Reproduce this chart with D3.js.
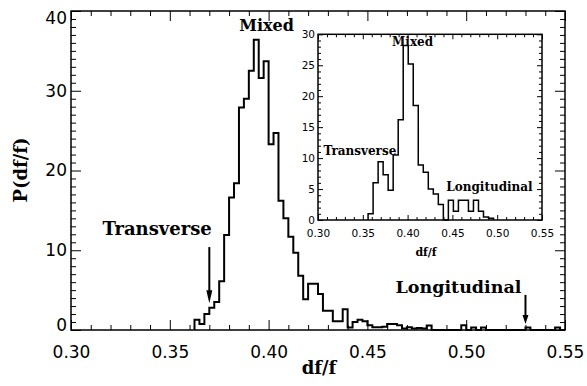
<!DOCTYPE html>
<html>
<head>
<meta charset="utf-8">
<script src="https://cdn.jsdelivr.net/npm/d3@7"></script>
<style>
body { margin: 0; background: #fff; }
svg { display: block; }
.tick text { font-family: "DejaVu Sans", sans-serif; fill: #000; }
.tick line { stroke: #000; }
</style>
</head>
<body>
<div id="chart-area"></div>
<script>
// main histogram, bins of 0.0025 starting at 0.3625
var mainStart = 0.3625, mainWidth = 0.0025;
var mainValues = [1.3, 0.75, 2.0, 2.8, 3.5, 6.1, 11.9, 16.6, 18.4, 27.9,
	29.0, 32.5, 36.4, 31.6, 33.7, 23.3, 24.7, 16.2, 14.0, 11.7,
	9.7, 6.8, 3.85, 5.8, 5.8, 4.5, 2.4, 2.4, 1.1, 1.1,
	2.6, 0.3, 1.0, 1.3, 1.1, 0.6, 0.35, 0.35, 0.4, 0.75,
	0.75, 0.6, 0.2, 0.35, 0.2, 0.25, 0.2, 0.55, 0, 0,
	0, 0, 0, 0, 0.6, 0, 0.3, 0, 0.3, 0,
	0, 0, 0, 0, 0, 0, 0, 0.3, 0, 0,
	0, 0, 0, 0.3, 0];

// inset histogram
var insetStart = 0.3559, insetWidth = 0.0056;
var insetValues = [1.0, 6.0, 9.4, 7.3, 4.8, 10.5, 16.2, 28.2, 25.2, 18.5,
	8.9, 7.7, 5.0, 4.2, 2.5, 0, 3.2, 1.4, 3.2, 3.2,
	1.4, 3.2, 1.4, 0.5, 0.3];

var xTicks = [0.30, 0.35, 0.40, 0.45, 0.50, 0.55];
var yTicks = [0, 10, 20, 30, 40];
var insetYTicks = [0, 5, 10, 15, 20, 25, 30];

// arrows: x position, top and tip in P(df/f)
var arrowX = [0.37, 0.53];
var arrowTop = [10.4, 4.4];
var arrowTip = [3.35, 0.75];

var margin = {top: 11, left: 71, bottom: 56, right: 22};
var width = 587 - margin.left - margin.right;
var height = 386 - margin.top - margin.bottom;

var svg = d3.select("#chart-area")
	.append("svg")
		.attr("width", 587)
		.attr("height", 386);

svg.append("rect").attr("width", 587).attr("height", 386).attr("fill", "#fff");

var g = svg.append("g")
	.attr("transform", "translate(" + margin.left + ", " + margin.top + ")");

var x = d3.scaleLinear().domain([0.30, 0.55]).range([0, width]);
var y = d3.scaleLinear().domain([0, 40]).range([height, 0]);

function minorTicks(lo, hi, step, every) {
	var out = [];
	for (var i = Math.round(lo / step); i <= Math.round(hi / step); i++) {
		if (i % every !== 0) out.push(+(i * step).toFixed(4));
	}
	return out;
}

function stepPath(values, start, w, xs, ys) {
	var p = d3.path();
	p.moveTo(xs(start), ys(0));
	values.forEach(function(v, i) {
		p.lineTo(xs(start + i * w), ys(v));
		p.lineTo(xs(start + (i + 1) * w), ys(v));
	});
	p.lineTo(xs(start + values.length * w), ys(0));
	return p.toString();
}

function drawFrame(grp, xs, ys, xt, yt, xMinor, yMinor, major, minor, fontSize, pad) {
	var w = xs.range()[1], h = ys.range()[0];
	// minor ticks
	grp.append("g").attr("transform", "translate(0," + h + ")")
		.call(d3.axisBottom(xs).tickValues(xMinor).tickSize(-minor).tickFormat(""));
	grp.append("g")
		.call(d3.axisTop(xs).tickValues(xMinor).tickSize(-minor).tickFormat(""));
	grp.append("g")
		.call(d3.axisLeft(ys).tickValues(yMinor).tickSize(-minor).tickFormat(""));
	grp.append("g").attr("transform", "translate(" + w + ",0)")
		.call(d3.axisRight(ys).tickValues(yMinor).tickSize(-minor).tickFormat(""));
	// major ticks
	var bx = grp.append("g").attr("class", "x axis").attr("transform", "translate(0," + h + ")")
		.call(d3.axisBottom(xs).tickValues(xt).tickSizeInner(-major).tickSizeOuter(0)
			.tickPadding(pad).tickFormat(d3.format(".2f")));
	grp.append("g")
		.call(d3.axisTop(xs).tickValues(xt).tickSize(-major).tickFormat(""));
	var ly = grp.append("g").attr("class", "y axis")
		.call(d3.axisLeft(ys).tickValues(yt).tickSizeInner(-major).tickSizeOuter(0)
			.tickPadding(pad));
	grp.append("g").attr("transform", "translate(" + w + ",0)")
		.call(d3.axisRight(ys).tickValues(yt).tickSize(-major).tickFormat(""));
	grp.selectAll(".domain").remove();
	grp.selectAll(".tick text").attr("font-size", fontSize + "px");
	grp.append("rect")
		.attr("width", w).attr("height", h)
		.attr("fill", "none").attr("stroke", "#000").attr("stroke-width", 1.5);
	return {bx: bx, ly: ly};
}

// main histogram
g.append("path")
	.attr("d", stepPath(mainValues, mainStart, mainWidth, x, y))
	.attr("fill", "none").attr("stroke", "#000").attr("stroke-width", 2)
	.attr("stroke-linejoin", "miter");

var ax = drawFrame(g, x, y, xTicks, yTicks,
	minorTicks(0.30, 0.55, 0.01, 5), minorTicks(0, 40, 1, 10), 10, 5, 17, 4);
ax.ly.selectAll(".tick text").filter(function(d) { return d === 40; }).attr("dy", "0.72em");
ax.ly.selectAll(".tick text").filter(function(d) { return d === 0; }).attr("dy", "0.02em");
ax.bx.selectAll(".tick text").attr("dy", "1.41em");

// labels
g.append("text")
	.attr("x", width / 2 + 1)
	.attr("y", height + 44)
	.attr("text-anchor", "middle")
	.attr("font-family", "DejaVu Serif, serif").attr("font-weight", "bold")
	.attr("font-size", "18px")
	.text("df/f");

g.append("text")
	.attr("transform", "translate(" + (-44) + "," + (159) + ") rotate(-90)")
	.attr("text-anchor", "middle")
	.attr("font-family", "DejaVu Serif, serif").attr("font-weight", "bold")
	.attr("font-size", "18px")
	.text("P(df/f)");

g.append("text")
	.attr("x", x(0.40) - 2).attr("y", y(37.5))
	.attr("text-anchor", "middle")
	.attr("font-family", "DejaVu Serif, serif").attr("font-weight", "bold")
	.attr("font-size", "16px")
	.text("Mixed");

g.append("text")
	.attr("x", x(arrowX[0]) + 2.5).attr("y", y(11.9))
	.attr("text-anchor", "end")
	.attr("font-family", "DejaVu Serif, serif").attr("font-weight", "bold")
	.attr("font-size", "18px")
	.text("Transverse");

g.append("text")
	.attr("x", x(arrowX[1]) - 4).attr("y", y(4.65))
	.attr("text-anchor", "end")
	.attr("font-family", "DejaVu Serif, serif").attr("font-weight", "bold")
	.attr("font-size", "17.5px")
	.text("Longitudinal");

// arrows
arrowX.forEach(function(v, i) {
	var ax0 = x(v), y0 = y(arrowTop[i]), y1 = y(arrowTip[i]);
	var head = i === 0 ? 13 : 9;
	g.append("line")
		.attr("x1", ax0).attr("x2", ax0)
		.attr("y1", y0).attr("y2", y1 - head + 1)
		.attr("stroke", "#000").attr("stroke-width", 2);
	g.append("path")
		.attr("d", "M" + (ax0 - 3) + "," + (y1 - head) + "L" + (ax0 + 3) + "," + (y1 - head) +
			"L" + ax0 + "," + y1 + "Z")
		.attr("fill", "#000");
});

// inset
var ig = svg.append("g").attr("transform", "translate(318, 34.3)");
var xi = d3.scaleLinear().domain([0.30, 0.55]).range([0, 224]);
var yi = d3.scaleLinear().domain([0, 30]).range([185.7, 0]);

ig.append("rect").attr("width", 224).attr("height", 185.7).attr("fill", "#fff");

ig.append("path")
	.attr("d", stepPath(insetValues, insetStart, insetWidth, xi, yi))
	.attr("fill", "none").attr("stroke", "#000").attr("stroke-width", 1.5);

var iax = drawFrame(ig, xi, yi, xTicks, insetYTicks,
	minorTicks(0.30, 0.55, 0.01, 5), minorTicks(0, 30, 1, 5), 5, 3, 10.5, 3);
iax.bx.selectAll(".tick text").attr("dy", "1.35em");

ig.append("text")
	.attr("x", 108).attr("y", 222)
	.attr("text-anchor", "middle")
	.attr("font-family", "DejaVu Serif, serif").attr("font-weight", "bold")
	.attr("font-size", "11px")
	.text("df/f");

ig.append("text")
	.attr("x", xi(0.40) + 5).attr("y", yi(28.1))
	.attr("text-anchor", "middle")
	.attr("font-family", "DejaVu Serif, serif").attr("font-weight", "bold")
	.attr("font-size", "12px")
	.text("Mixed");

ig.append("text")
	.attr("x", xi(0.306)).attr("y", yi(10.5))
	.attr("font-family", "DejaVu Serif, serif").attr("font-weight", "bold")
	.attr("font-size", "12px")
	.text("Transverse");

ig.append("text")
	.attr("x", xi(0.5396)).attr("y", yi(4.7))
	.attr("text-anchor", "end")
	.attr("font-family", "DejaVu Serif, serif").attr("font-weight", "bold")
	.attr("font-size", "12px")
	.text("Longitudinal");
</script>
</body>
</html>
